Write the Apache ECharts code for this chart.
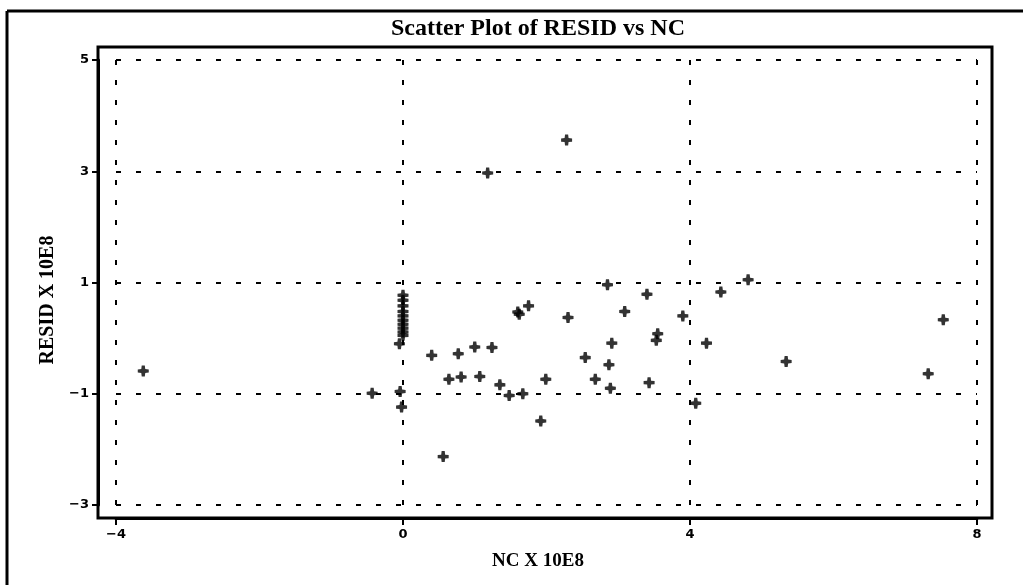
<!DOCTYPE html>
<html><head><meta charset="utf-8">
<script src="https://cdn.jsdelivr.net/npm/echarts@6/dist/echarts.min.js"></script>
<style>html,body{margin:0;padding:0;background:#fff}#c{width:1023px;height:585px}</style>
</head><body><div id="c"></div>
<script>
const titleText = 'Scatter Plot of RESID vs NC';
const xName = 'NC X 10E8';
const yName = 'RESID X 10E8';
const xTicks = [-4, 0, 4, 8];
const yTicks = [-3, -1, 1, 3, 5];
const ncValues = [-3.62, -0.43, -0.04, -0.02, -0.05, 0, 0, 0, 0, 0, 0, 0, 0, 0, 0,
  0.40, 0.56, 0.64, 0.77, 0.81, 1.00, 1.07, 1.18, 1.24, 1.35, 1.48, 1.60, 1.62, 1.67, 1.75,
  1.92, 1.99, 2.28, 2.30, 2.54, 2.68, 2.85, 2.87, 2.89, 2.91, 3.09, 3.40, 3.43, 3.53, 3.55,
  3.90, 4.08, 4.23, 4.43, 4.81, 5.34, 7.32, 7.53];
const residValues = [-0.59, -0.99, -0.96, -1.24, -0.10, 0.77, 0.68, 0.58, 0.48, 0.40, 0.32, 0.25, 0.18, 0.11, 0.05,
  -0.31, -2.13, -0.74, -0.28, -0.70, -0.16, -0.69, 2.97, -0.17, -0.84, -1.03, 0.47, 0.43, -1.00, 0.58,
  -1.49, -0.74, 3.56, 0.37, -0.35, -0.74, 0.96, -0.48, -0.90, -0.09, 0.48, 0.79, -0.80, -0.04, 0.08,
  0.40, -1.17, -0.09, 0.83, 1.05, -0.42, -0.64, 0.33];

const points = ncValues.map((x, i) => [x, residValues[i]]);
const fmt = v => String(v).replace('-', '\u2212');
const chart = echarts.init(document.getElementById('c'), null, {renderer: 'canvas'});
const lblFont = {fontFamily: 'DejaVu Sans', fontWeight: 'bold', fontSize: 13, color: '#000'};
const dash = {color: '#000', width: 2, type: [5, 15]};
chart.setOption({
  animation: false,
  backgroundColor: '#fff',
  grid: {left: 116, right: 46, top: 60, bottom: 80},
  xAxis: {
    type: 'value', min: xTicks[0], max: xTicks[xTicks.length - 1], interval: 4,
    offset: 13,
    axisLine: {show: true, onZero: false, lineStyle: {color: '#000', width: 3}},
    axisTick: {show: true, length: 7, lineStyle: {color: '#000', width: 2}},
    axisLabel: Object.assign({margin: 10, formatter: fmt}, lblFont),
    splitLine: {show: true, lineStyle: dash}
  },
  yAxis: {
    type: 'value', min: yTicks[0], max: yTicks[yTicks.length - 1], interval: 2,
    offset: 18,
    axisLine: {show: true, onZero: false, lineStyle: {color: '#000', width: 3}},
    axisTick: {show: true, length: 6, lineStyle: {color: '#000', width: 2}},
    axisLabel: Object.assign({margin: 9, formatter: fmt}, lblFont),
    splitLine: {show: true, lineStyle: dash}
  },
  graphic: [
    {type: 'rect', shape: {x: 98, y: 47, width: 894, height: 471}, style: {fill: 'none', stroke: '#000', lineWidth: 3}, silent: true},
    {type: 'line', shape: {x1: 7, y1: 11, x2: 1023, y2: 11}, style: {stroke: '#000', lineWidth: 3}},
    {type: 'line', shape: {x1: 7, y1: 11, x2: 7, y2: 585}, style: {stroke: '#000', lineWidth: 3}},
    {type: 'text', x: 538, y: 29, style: {text: titleText, font: '900 24px "Liberation Serif"', fill: '#000', textAlign: 'center', textVerticalAlign: 'middle'}},
    {type: 'text', x: 538, y: 561, style: {text: xName, font: '900 19px "Liberation Serif"', fill: '#000', textAlign: 'center', textVerticalAlign: 'middle'}},
    {type: 'text', x: 48, y: 300, rotation: Math.PI / 2, style: {text: yName, font: '900 20px "Liberation Serif"', fill: '#000', textAlign: 'center', textVerticalAlign: 'middle'}}
  ],
  series: [{
    type: 'scatter',
    data: points,
    symbol: 'path://M3.6,0 L6.4,0 L6.8,3.2 L10,3.6 L10,6.4 L6.8,6.8 L6.4,10 L3.6,10 L3.2,6.8 L0,6.4 L0,3.6 L3.2,3.2 Z',
    symbolSize: 11,
    itemStyle: {color: '#000'},
    clip: false
  }]
});
</script></body></html>
